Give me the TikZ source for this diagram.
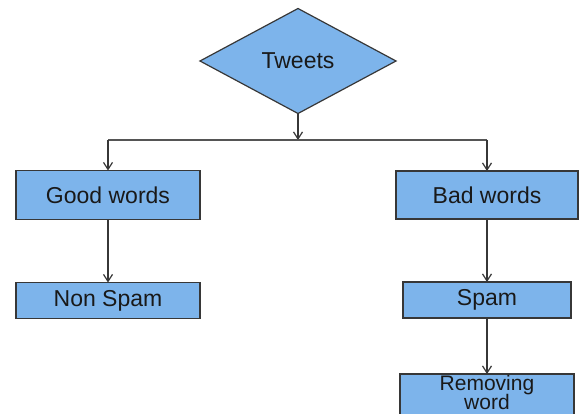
\documentclass[tikz,border=0pt]{standalone}
\usepackage{fontspec}
\setmainfont{Liberation Sans}
\usepackage{tikz}
\usetikzlibrary{arrows.meta, positioning, shapes.geometric}
\usepackage{xcolor}
\definecolor{twblue}{RGB}{125,180,235}
\definecolor{twline}{RGB}{55,55,55}
\definecolor{twtext}{RGB}{25,25,25}
\tikzset{
    block/.style={draw=twline, line width=1.2pt, fill=twblue, align=center, text=twtext,
                  font=\fontsize{23}{19}\selectfont, inner sep=1pt, outer sep=0pt},
    decision/.style={diamond, draw=twline, line width=1.2pt, fill=twblue, text=twtext,
                     font=\fontsize{23}{19}\selectfont, aspect=1.87, minimum width=196pt,
                     minimum height=105pt, inner sep=1pt, outer sep=0pt},
    arrow/.style={-{Straight Barb[length=7pt, width=9pt]}, line width=1.2pt, twline},
    link/.style={line width=1.5pt, twline!85},
}

\begin{document}
\begin{tikzpicture}[x=1pt, y=-1pt]
        \useasboundingbox (0,0) rectangle (579,414);
        \node[block, font=\fontsize{21}{18}\selectfont, minimum width=174pt, minimum height=46pt,
              text depth=9pt, at={(487,397)}] (rem) {Removing\\[-1pt]word};
        \node[decision] (tweets) at (298,61) {Tweets};
        \coordinate (fork) at (298,140);
        \node[block, minimum width=184pt, minimum height=49pt] (good) at (108,195) {Good words};
        \node[block, minimum width=184pt, minimum height=36pt, below=63pt of good] (non) {Non Spam};
        \node[block, minimum width=182pt, minimum height=48pt] (bad) at (487,195) {Bad words};
        \node[block, minimum width=168pt, minimum height=36pt, below=63pt of bad] (spam) {Spam};
        \draw[arrow] (tweets.south) -- (fork);
        \draw[link] (fork -| good) -- (fork -| bad);
        \foreach \t in {good,bad} { \draw[arrow] (fork -| \t) -- (\t.north); }
        \draw[arrow] (good) -- (non);
        \draw[arrow] (bad) -- (spam);
        \draw[arrow] (spam) -- (rem);
    \end{tikzpicture}
\end{document}
